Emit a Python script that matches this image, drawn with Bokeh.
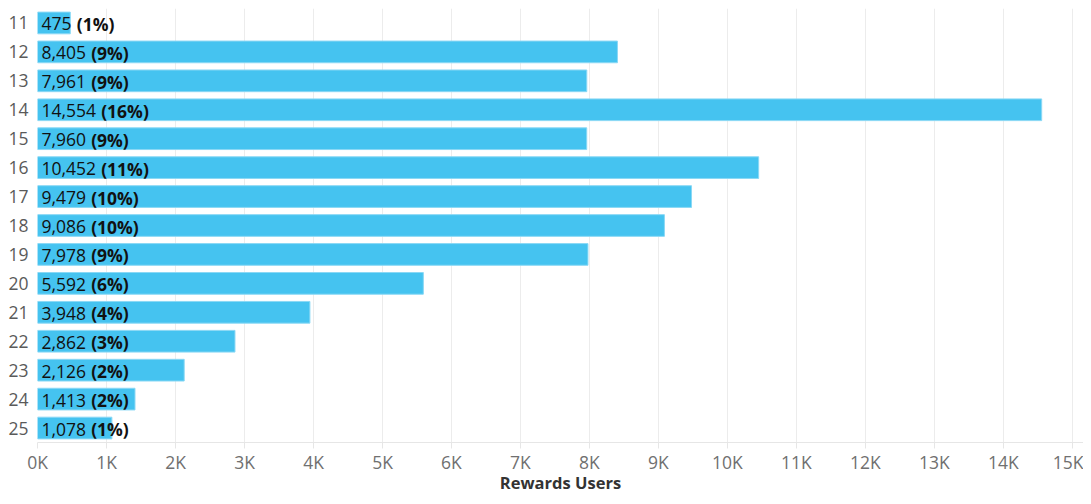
from bokeh.plotting import figure
from bokeh.models import ColumnDataSource, Range1d, FixedTicker
from bokeh.core.properties import value
from bokeh.embed import file_html
from bokeh.resources import INLINE

# ---- data ----
categories = [11, 12, 13, 14, 15, 16, 17, 18, 19, 20, 21, 22, 23, 24, 25]
users = [475, 8405, 7961, 14554, 7960, 10452, 9479, 9086, 7978, 5592, 3948, 2862, 2126, 1413, 1078]
shares = ["1%", "9%", "9%", "16%", "9%", "11%", "10%", "10%", "9%", "6%", "4%", "3%", "2%", "2%", "1%"]
x_ticks = [0, 1000, 2000, 3000, 4000, 5000, 6000, 7000, 8000, 9000, 10000, 11000, 12000, 13000, 14000, 15000]
x_tick_labels = ["0K", "1K", "2K", "3K", "4K", "5K", "6K", "7K", "8K", "9K", "10K", "11K", "12K", "13K", "14K", "15K"]
x_title = "Rewards Users"

FONT = "Open Sans"
FS = 17.5  # px

W, H = 1083, 496
LEFT, TOP, BOTTOM = 37, 8, 54
X_END = 15160
Y_START, Y_END = 25.5, 10.5

# approximate advance widths (em) for Open Sans regular
def text_width(s):
    w = 0.0
    for ch in s:
        if ch.isdigit():
            w += 0.572
        elif ch == ",":
            w += 0.25
        elif ch == " ":
            w += 0.30
        else:
            w += 0.55
    return w * FS

num_labels = [f"{u:,}" for u in users]
pct_labels = [f"({s})" for s in shares]
pct_offsets = [4 + text_width(n + " ") for n in num_labels]

src = ColumnDataSource(dict(
    cat=categories, users=users, zero=[0] * len(users),
    num=num_labels, pct=pct_labels, pct_off=pct_offsets,
))

p = figure(width=W, height=H, output_backend="svg", toolbar_location=None,
           x_range=Range1d(0, X_END), y_range=Range1d(Y_START, Y_END),
           min_border_left=LEFT, min_border_right=0, min_border_top=TOP,
           min_border_bottom=BOTTOM)
p.outline_line_color = None
p.background_fill_color = "white"

p.hbar(y="cat", left=0, right="users", height=0.75, source=src,
       fill_color="#45C3F0", line_color="#8AD8F5", line_width=1)

p.text(x="zero", y="cat", text="num", source=src, x_offset=4, y_offset=1,
       text_font=value(FONT), text_font_size=f"{FS}px", text_color="#111111",
       text_baseline="middle", text_align="left")
p.text(x="zero", y="cat", text="pct", source=src, x_offset="pct_off", y_offset=1,
       text_font=value(FONT), text_font_size=f"{FS}px", text_font_style="bold",
       text_color="#111111", text_baseline="middle", text_align="left")

# x axis
p.xaxis.ticker = FixedTicker(ticks=x_ticks)
p.xaxis.major_label_overrides = {t: l for t, l in zip(x_ticks, x_tick_labels)}
p.xaxis.major_label_text_font = FONT
p.xaxis.major_label_text_font_size = f"{FS}px"
p.xaxis.major_label_text_color = "#707070"
p.xaxis.major_label_standoff = 1
p.xaxis.axis_line_color = "#e6e6e6"
p.xaxis.major_tick_line_color = "#e6e6e6"
p.xaxis.major_tick_out = 6
p.xaxis.major_tick_in = 0
p.xaxis.minor_tick_line_color = None
p.xaxis.axis_label = x_title
p.xaxis.axis_label_text_font = FONT
p.xaxis.axis_label_text_font_size = "16.5px"
p.xaxis.axis_label_text_font_style = "bold"
p.xaxis.axis_label_text_color = "#333333"
p.xaxis.axis_label_standoff = -6

# y axis
p.yaxis.ticker = FixedTicker(ticks=categories)
p.yaxis.major_label_overrides = {c: str(c) for c in categories}
p.yaxis.major_label_text_font = FONT
p.yaxis.major_label_text_font_size = f"{FS}px"
p.yaxis.major_label_text_color = "#5a5a5a"
p.yaxis.major_label_standoff = 9
p.yaxis.major_tick_out = 0
p.yaxis.major_tick_in = 0
p.yaxis.axis_line_color = None
p.yaxis.major_tick_line_color = None
p.yaxis.minor_tick_line_color = None

p.ygrid.grid_line_color = None
p.xgrid.grid_line_color = "#ececec"
p.xgrid.grid_line_width = 1

open("out.html", "w").write(file_html(p, INLINE))
